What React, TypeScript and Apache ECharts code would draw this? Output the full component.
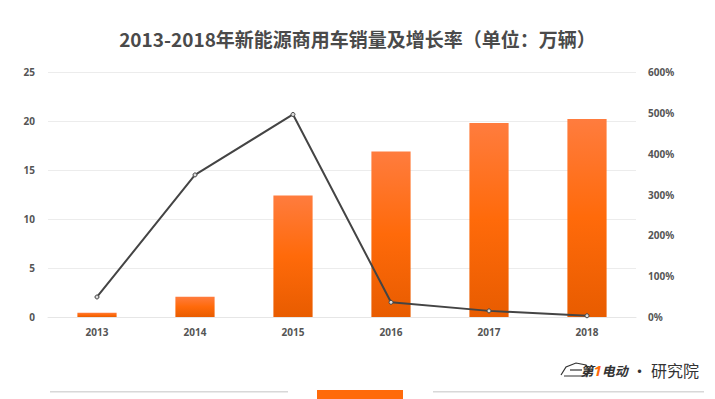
import React, { useEffect, useRef } from "react";
import * as echarts from "echarts";

const categories = ["2013", "2014", "2015", "2016", "2017", "2018"];
const sales = [0.44, 2.07, 12.4, 16.9, 19.8, 20.2];
const growth = [49, 348, 496, 36, 15, 3];

export default function App() {
  const ref = useRef<HTMLDivElement>(null);
  useEffect(() => {
    if (!ref.current) return;
    const chart = echarts.init(ref.current, undefined, { renderer: "svg" });
    const labelColor = "#555";
    chart.setOption({
      animation: false,
      backgroundColor: "#fff",
      title: {
        text: "2013-2018年新能源商用车销量及增长率（单位：万辆）",
        left: "center",
        top: 24,
        textStyle: { fontSize: 19, fontWeight: "bold", color: "#4a4a4a", fontFamily: "Noto Sans CJK SC" },
      },
      grid: { left: 48, right: 79, top: 72, bottom: 82, containLabel: false },
      xAxis: {
        type: "category",
        data: categories,
        axisLine: { lineStyle: { color: "#e6e6e6" } },
        axisTick: { show: false },
        axisLabel: { color: labelColor, fontSize: 10, fontWeight: "bold", margin: 10, fontFamily: "Noto Sans" },
      },
      yAxis: [
        {
          type: "value",
          min: 0,
          max: 25,
          interval: 5,
          axisLine: { show: false },
          axisTick: { show: false },
          splitLine: { lineStyle: { color: "#ececec" } },
          axisLabel: { color: labelColor, fontSize: 10, fontWeight: "bold", margin: 13, fontFamily: "Noto Sans" },
        },
        {
          type: "value",
          min: 0,
          max: 600,
          interval: 100,
          axisLine: { show: false },
          axisTick: { show: false },
          splitLine: { show: false },
          axisLabel: { color: labelColor, fontSize: 10, fontWeight: "bold", margin: 12, formatter: "{value}%", fontFamily: "Noto Sans" },
        },
      ],
      series: [
        {
          type: "bar",
          data: sales,
          barWidth: "40%",
          itemStyle: {
            color: new echarts.graphic.LinearGradient(0, 0, 0, 1, [
              { offset: 0, color: "#ff7c3e" },
              { offset: 0.5, color: "#ff6a0a" },
              { offset: 1, color: "#e85c00" },
            ]),
          },
        },
        {
          type: "line",
          yAxisIndex: 1,
          data: growth,
          symbol: "circle",
          symbolSize: 4,
          lineStyle: { color: "#444", width: 2 },
          itemStyle: { color: "#ddd", borderColor: "#444", borderWidth: 1 },
        },
      ],
      graphic: [
        { type: "rect", shape: { x: 50, y: 391, width: 238, height: 1.5 }, style: { fill: "#d8d8d8" } },
        { type: "rect", shape: { x: 317, y: 390, width: 86, height: 10 }, style: { fill: "#ff6a0a" } },
        { type: "rect", shape: { x: 433, y: 391, width: 271, height: 1.5 }, style: { fill: "#d8d8d8" } },
        {
          type: "text",
          x: 699,
          y: 370,
          style: {
            text: "{a|第}{b|1}{a|电动}{c| · 研究院}",
            align: "right",
            verticalAlign: "middle",
            rich: {
              a: { fontSize: 13, fontWeight: "bold", fontStyle: "italic", fill: "#333", fontFamily: "Noto Sans CJK SC" },
              b: { fontSize: 15, fontWeight: "bold", fontStyle: "italic", fill: "#ff6a0a", fontFamily: "Noto Sans" },
              c: { fontSize: 16, fill: "#333", fontFamily: "Noto Sans CJK SC" },
            },
          },
        },
        {
          type: "polyline",
          shape: { points: [[561, 375], [566, 367], [576, 363], [586, 365], [590, 371], [586, 376], [564, 376]] },
          style: { stroke: "#333", fill: "none", lineWidth: 1.2 },
        },
        { type: "line", shape: { x1: 570, y1: 370, x2: 582, y2: 370 }, style: { stroke: "#333", lineWidth: 1.2 } },
      ],
    });
    return () => chart.dispose();
  }, []);
  return <div ref={ref} style={{ width: 715, height: 399, position: "absolute", left: 0, top: 0 }} />;
}
